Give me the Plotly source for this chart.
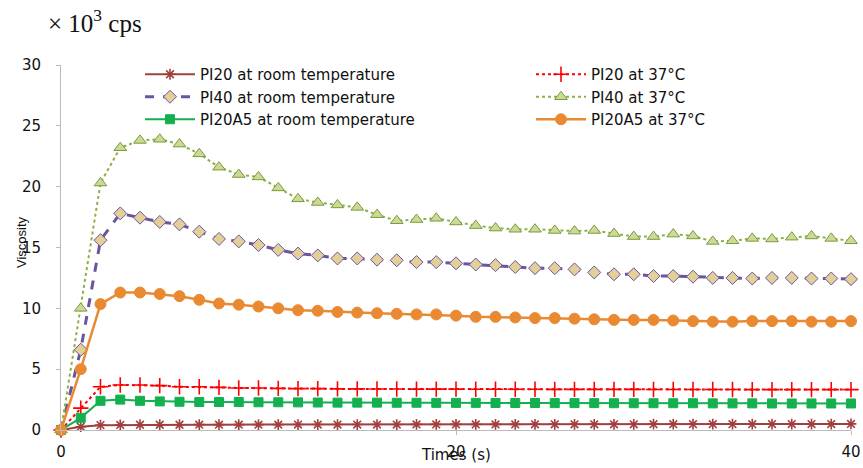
import plotly.graph_objects as go

times = list(range(0, 41))

pi20_room = [0, 0.27, 0.4, 0.42, 0.43, 0.43, 0.43, 0.44, 0.44, 0.44, 0.44, 0.44, 0.45, 0.45, 0.45,
             0.45, 0.45, 0.45, 0.46, 0.46, 0.46, 0.46, 0.46, 0.46, 0.47, 0.47, 0.47, 0.47, 0.47,
             0.47, 0.48, 0.48, 0.48, 0.48, 0.48, 0.48, 0.49, 0.49, 0.49, 0.49, 0.5]
pi20_37 = [0, 1.8, 3.55, 3.7, 3.7, 3.65, 3.55, 3.55, 3.5, 3.45, 3.45, 3.42, 3.4, 3.4, 3.38,
           3.38, 3.37, 3.37, 3.36, 3.36, 3.36, 3.35, 3.35, 3.35, 3.35, 3.34, 3.34, 3.34, 3.34,
           3.34, 3.33, 3.33, 3.33, 3.33, 3.33, 3.32, 3.32, 3.32, 3.32, 3.32, 3.32]
pi40_room = [0, 6.6, 15.6, 17.8, 17.45, 17.1, 16.9, 16.3, 15.7, 15.5, 15.2, 14.8, 14.5, 14.35,
             14.1, 14.1, 14.0, 13.95, 13.8, 13.8, 13.7, 13.6, 13.55, 13.4, 13.3, 13.3, 13.2,
             12.95, 12.8, 12.8, 12.65, 12.65, 12.6, 12.5, 12.5, 12.45, 12.5, 12.5, 12.45, 12.45, 12.4]
pi40_37 = [0, 10.0, 20.3, 23.2, 23.8, 23.9, 23.5, 22.7, 21.6, 21.0, 20.8, 19.9, 19.0, 18.7,
           18.5, 18.3, 17.7, 17.2, 17.3, 17.4, 17.1, 16.8, 16.6, 16.5, 16.5, 16.4, 16.35, 16.4,
           16.15, 15.9, 15.9, 16.1, 15.95, 15.5, 15.55, 15.75, 15.7, 15.85, 15.95, 15.75, 15.55]
pi20a5_room = [0, 1.0, 2.4, 2.5, 2.4, 2.35, 2.32, 2.3, 2.3, 2.3, 2.28, 2.28, 2.27, 2.26, 2.25,
               2.25, 2.25, 2.24, 2.24, 2.23, 2.23, 2.23, 2.22, 2.22, 2.22, 2.21, 2.21, 2.21,
               2.2, 2.2, 2.2, 2.2, 2.2, 2.19, 2.19, 2.19, 2.18, 2.18, 2.18, 2.18, 2.18]
pi20a5_37 = [0, 5.0, 10.35, 11.3, 11.3, 11.18, 11.0, 10.7, 10.4, 10.3, 10.15, 10.0, 9.85, 9.8,
             9.7, 9.65, 9.6, 9.55, 9.5, 9.5, 9.4, 9.3, 9.3, 9.25, 9.2, 9.2, 9.15, 9.1, 9.05,
             9.05, 9.05, 9.0, 8.95, 8.9, 8.9, 8.95, 8.95, 8.95, 8.9, 8.9, 8.95]

y_ticks = [0, 5, 10, 15, 20, 25, 30]
x_ticks = [0, 20, 40]

series = [
    dict(name="PI20 at room temperature", y=pi20_room, color="#A0403E", dash="solid",
         symbol="asterisk", mcolor="#A0403E", mline="#A0403E", size=9, width=2, legend="legend"),
    dict(name="PI20 at 37\u00b0C", y=pi20_37, color="#FF0000", dash="dot",
         symbol="cross-thin", mcolor="#FF0000", mline="#FF0000", size=11, width=2, legend="legend2"),
    dict(name="PI40 at room temperature", y=pi40_room, color="#6A55A0", dash="dash",
         symbol="diamond", mcolor="#E3CF98", mline="#6A55A0", size=10, width=3, legend="legend"),
    dict(name="PI40 at 37\u00b0C", y=pi40_37, color="#8FAF45", dash="dot",
         symbol="triangle-up", mcolor="#CCDA98", mline="#7A9A3A", size=11, width=2, legend="legend2"),
    dict(name="PI20A5 at room temperature", y=pi20a5_room, color="#14B050", dash="solid",
         symbol="square", mcolor="#14B050", mline="#14B050", size=9, width=2, legend="legend"),
    dict(name="PI20A5 at 37\u00b0C", y=pi20a5_37, color="#E98A33", dash="solid",
         symbol="circle", mcolor="#E98A33", mline="#E98A33", size=11, width=2.5, legend="legend2"),
]

fig = go.Figure()
for s in series:
    lw = 1.6 if s["symbol"] in ("asterisk", "cross-thin") else 1
    fig.add_trace(go.Scatter(
        x=times, y=s["y"], name=s["name"], mode="lines+markers",
        line=dict(color=s["color"], dash=s["dash"], width=s["width"]),
        marker=dict(symbol=s["symbol"], size=s["size"], color=s["mcolor"],
                    line=dict(color=s["mline"], width=lw)),
        legend=s["legend"], legendgroup=s["name"], cliponaxis=False,
    ))

PW, PH = 790, 365
legend_font = dict(family="DejaVu Sans", size=15, color="#111111")
fig.update_layout(
    width=863, height=468,
    margin=dict(l=61, r=12, t=65, b=38, autoexpand=False),
    paper_bgcolor="white", plot_bgcolor="white",
    showlegend=True,
    legend=dict(x=(140 - 61) / PW, y=(430 - 58) / PH, xanchor="left", yanchor="top",
                font=legend_font, bgcolor="rgba(0,0,0,0)", tracegroupgap=0,
                itemwidth=50),
    legend2=dict(x=(531 - 61) / PW, y=(430 - 58) / PH, xanchor="left", yanchor="top",
                 font=legend_font, bgcolor="rgba(0,0,0,0)", tracegroupgap=0,
                 itemwidth=50),
    xaxis=dict(range=[0, 40], tickvals=x_ticks, ticktext=[str(v) for v in x_ticks],
               showgrid=False, zeroline=False, showline=True, linecolor="#BBBBBB",
               linewidth=1, ticks="outside", ticklen=4, tickcolor="#BBBBBB",
               ticklabelstandoff=4, automargin=False,
               tickfont=dict(family="DejaVu Sans", size=15, color="#111111")),
    yaxis=dict(range=[0, 30], tickvals=y_ticks, ticktext=[str(v) for v in y_ticks],
               showgrid=False, zeroline=False, showline=True, linecolor="#BBBBBB",
               linewidth=1, ticks="outside", ticklen=4, tickcolor="#BBBBBB",
               ticklabelstandoff=12, automargin=False,
               tickfont=dict(family="DejaVu Sans", size=15, color="#111111")),
    annotations=[
        dict(text="\u00d7 10<sup>3</sup> cps", xref="paper", yref="paper",
             x=(46 - 61) / PW, y=(430 - 21) / PH, xanchor="left", yanchor="middle",
             showarrow=False,
             font=dict(family="Liberation Serif", size=25, color="#111111")),
        dict(text="Times (s)", xref="paper", yref="paper",
             x=(456 - 61) / PW, y=(430 - 455) / PH, xanchor="center", yanchor="middle",
             showarrow=False, font=dict(family="DejaVu Sans", size=15, color="#111111")),
        dict(text="Viscosity", xref="paper", yref="paper", textangle=-90,
             x=(21 - 61) / PW, y=(430 - 242) / PH, xanchor="center", yanchor="middle",
             showarrow=False, font=dict(family="Liberation Sans Narrow, Liberation Sans",
                                        size=13, color="#111111")),
    ],
)

fig.write_html("out.html", config={"displayModeBar": False},
               post_script="document.body.style.margin='0px';")
